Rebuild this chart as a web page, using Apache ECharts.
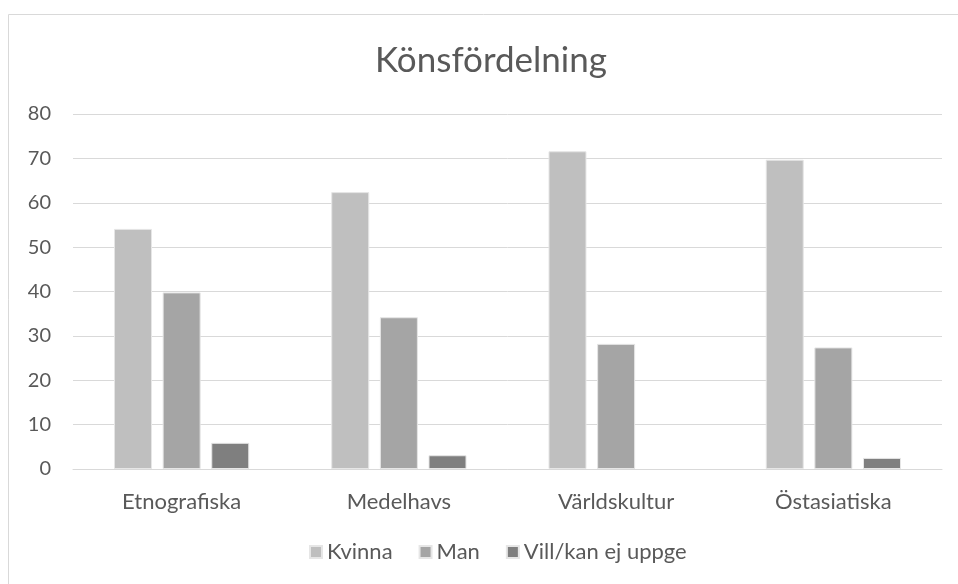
<!DOCTYPE html>
<html><head><meta charset="utf-8">
<script src="https://cdn.jsdelivr.net/npm/echarts@6/dist/echarts.min.js"></script>
<style>html,body{margin:0;padding:0;background:#fff}#c{width:958px;height:584px}</style>
</head><body><div id="c"></div>
<script>
const categories = ['Etnografiska', 'Medelhavs', 'Världskultur', 'Östasiatiska'];
const kvinna = [54.1, 62.4, 71.6, 69.7];
const man = [39.8, 34.2, 28.2, 27.4];
const vill = [5.9, 3.1, 0, 2.5];
const seriesNames = ['Kvinna', 'Man', 'Vill/kan ej uppge'];
const yTicks = [0, 10, 20, 30, 40, 50, 60, 70, 80];

const FONT = 'Lato';
const chart = echarts.init(document.getElementById('c'), null, {renderer: 'canvas'});
const colors = ['#bfbfbf', '#a5a5a5', '#7f7f7f'];
const data = [kvinna, man, vill];
chart.setOption({
  animation: false,
  graphic: [{type: 'rect', shape: {x: 8.5, y: 14.5, width: 960, height: 580}, style: {fill: 'none', stroke: '#d9d9d9', lineWidth: 1}, silent: true}],
  title: {text: 'Könsfördelning', left: 370, top: 38, textStyle: {fontFamily: FONT, fontSize: 35, fontWeight: 'normal', color: '#595959'}},
  legend: {bottom: 16, left: 304, itemWidth: 12, itemHeight: 12, itemGap: 26, icon: 'rect',
    textStyle: {fontFamily: FONT, fontSize: 22, color: '#595959'}, data: seriesNames},
  grid: {left: 73, right: 16, top: 114, bottom: 115, containLabel: false},
  xAxis: {type: 'category', data: categories,
    axisLine: {lineStyle: {color: '#d9d9d9', width: 1}}, axisTick: {show: false},
    axisLabel: {fontFamily: FONT, fontSize: 22, color: '#595959', margin: 22}},
  yAxis: {type: 'value', min: yTicks[0], max: yTicks[yTicks.length - 1], interval: 10,
    axisLine: {show: false}, axisTick: {show: false},
    splitLine: {lineStyle: {color: '#d9d9d9', width: 1}},
    axisLabel: {fontFamily: FONT, fontSize: 20, color: '#595959', margin: 22}},
  series: seriesNames.map((n, i) => ({
    name: n, type: 'bar', barWidth: 38, barGap: '28%',
    data: data[i].map(v => v === 0 ? {value: v, itemStyle: {borderWidth: 0, opacity: 0}} : v),
    itemStyle: {color: colors[i], borderColor: '#e6e6e6', borderWidth: 1}
  }))
});
</script></body></html>
